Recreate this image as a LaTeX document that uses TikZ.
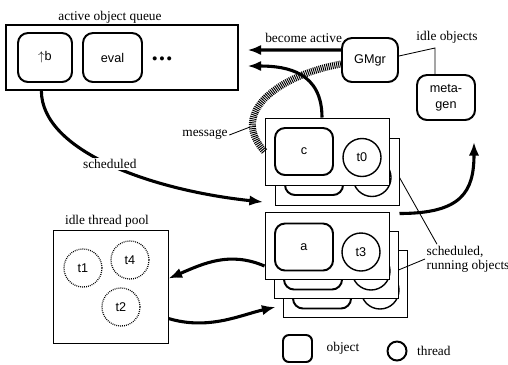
\documentclass[tikz,border=0pt]{standalone}
\usepackage{fontspec}
\setmainfont{Liberation Serif}
\setsansfont{Liberation Sans}
\usetikzlibrary{arrows.meta,positioning}
\tikzset{
  % Plain box
  BX/.style={rectangle,draw,line width=0.7pt,fill=white},
  % Object
  OB/.style={rectangle,rounded corners=2.5mm,draw,line width=1.4pt,fill=white,
             minimum width=14.5mm,minimum height=11.75mm,align=center,
             font=\sffamily\fontsize{9}{11.3}\selectfont},
  % Thread
  TH/.style={circle,draw,line width=1pt,fill=white,minimum size=9.5mm,inner sep=0pt,
             font=\sffamily\fontsize{9}{11}\selectfont},
  TI/.style={TH,line width=0.9pt,dash pattern=on 0.6pt off 0.8pt},
  % Card of a running object
  CD/.style={BX,minimum width=31mm,minimum height=16.75mm},
  % Arrow
  arr/.style={-{Latex[length=3.4mm,width=2.6mm]},line width=2.2pt},
  % Hatched message band
  HB/.style={line width=1.75mm,dash pattern=on 0.7pt off 0.7pt},
  ln/.style={line width=0.6pt},
  % Label
  LB/.style={font=\fontsize{9.5}{10}\selectfont,inner sep=1pt}
}
\begin{document}
\begin{tikzpicture}[x=0.25mm,y=-0.25mm]
  \useasboundingbox (0,0) rectangle (508,364);

  % active object queue
  \node[BX,line width=0.9pt,minimum width=58mm,minimum height=16.25mm] (queue) at (122,57.5) {};
  \node[LB] (queueLbl) at (110,17) {active object queue};
  \node[OB,minimum width=13.5mm,minimum height=12.25mm] (objB)    at (45,57.5)  {$\uparrow$b};
  \node[OB,minimum width=14.75mm,minimum height=12.25mm](objEval) at (112.5,57.5){eval};
  \node[font=\sffamily\bfseries] (dots) at (162,60) {\textbullet\,\textbullet\,\textbullet};

  % group manager and meta-gen
  \node[OB,minimum width=14mm,minimum height=11mm]      (gmgr)    at (370,60)   {GMgr};
  \node[OB,minimum width=14.5mm,minimum height=11.25mm] (metagen) at (446,97.5) {meta-\\gen};
  \node[LB] (idleLbl) at (447,37) {idle objects};
  \coordinate (idleBend) at (435,48);

  % c stack
  \node[CD] (cBack)    at (337,171.5) {};
  \node[OB] (cBackObj) at (314,171.5) {};
  \node[TH] (cBackThr) at (372,177.5) {};
  \node[CD] (cCard)    at (327,151.5) {};
  \node[OB] (cObj)     at (304,151.5) {c};
  \node[TH] (cThr)     at (362,157.5) {t0};

  % a stack
  \node[CD] (aBack2)    at (345,284) {};
  \node[OB] (aBack2Obj) at (322,285) {};
  \node[TH] (aBack2Thr) at (380,290) {};
  \node[CD] (aBack1)    at (336,265) {};
  \node[OB] (aBack1Obj) at (313,266) {};
  \node[TH] (aBack1Thr) at (371,271) {};
  \node[CD] (aCard)     at (327,246) {};
  \node[OB] (aObj)      at (304,247) {a};
  \node[TH] (aThr)      at (361,252) {t3};

  % idle thread pool
  \node[BX,minimum width=28.75mm,minimum height=28.25mm] (pool) at (110.5,286.5) {};
  \node[LB] (poolLbl) at (107,221) {idle thread pool};
  \node[TI] (t1) at (83,268)  {t1};
  \node[TI] (t4) at (130,260) {t4};
  \node[TI] (t2) at (121,307) {t2};

  % message
  \draw[HB] ([yshift=-1mm]gmgr.west) .. controls (280,75) and (228,112) .. (cCard.west);
  \node[LB] (msgLbl) at (205,135) {message};
  \coordinate (msgPt) at (250,127);
  \draw[ln] (msgLbl.east) -- (msgPt);

  % connectors
  \draw[ln] ([yshift=1mm]gmgr.east) -- (idleBend) -- (idleBend |- metagen.north);
  \draw[arr] ([yshift=2.5mm]gmgr.west) -- node[LB,above=1mm,pos=0.4] (activeLbl) {become active}
             ([xshift=2.25mm,yshift=1.875mm]queue.east);
  \draw[arr] ([xshift=-1.25mm]cCard.north) .. controls +(0,-45) and +(40,0)
             .. ([xshift=2.25mm,yshift=-2.125mm]queue.east);
  \coordinate (schedEnd) at (263,202);
  \draw[arr] ([xshift=9mm]queue.south west) .. controls +(0,60) and (150,190)
             .. node[LB,fill=white,pos=0.5] (schedLbl) {scheduled} (schedEnd);
  \coordinate (wakeEnd) at (474,142);
  \draw[arr] ([yshift=-2mm]cBack.south east) .. controls +(62,0) and +(0,50) .. (wakeEnd);
  \draw[arr] ([yshift=-5mm]aCard.west) .. controls +(-35,-15) and +(35,-15) .. ([yshift=2mm]pool.east);
  \draw[arr] ([yshift=-8mm]pool.east) .. controls +(40,12) and +(-35,8)
             .. ([xshift=-1.75mm,yshift=-5.75mm]aBack2.west);

  % scheduled, running objects
  \node[LB,anchor=west,align=left] (runLbl) at (425,259) {scheduled,\\running objects};
  \draw[ln] ([xshift=3mm]runLbl.north west) -- ([yshift=-1.5mm]cBack.east);
  \draw[ln] (runLbl.west) -- ([yshift=-1.25mm]aBack1.east);

  % legend
  \node[OB,minimum width=7.25mm,minimum height=6.75mm,rounded corners=1.5mm] (legObj) at (297.5,348.5) {};
  \node[LB,right=3mm of legObj] (legObjTxt) {object};
  \node[TH,minimum size=4.75mm,line width=1.4pt] (legThr) at (397,351) {};
  \node[LB,right=2mm of legThr] (legThrTxt) {thread};
\end{tikzpicture}
\end{document}
